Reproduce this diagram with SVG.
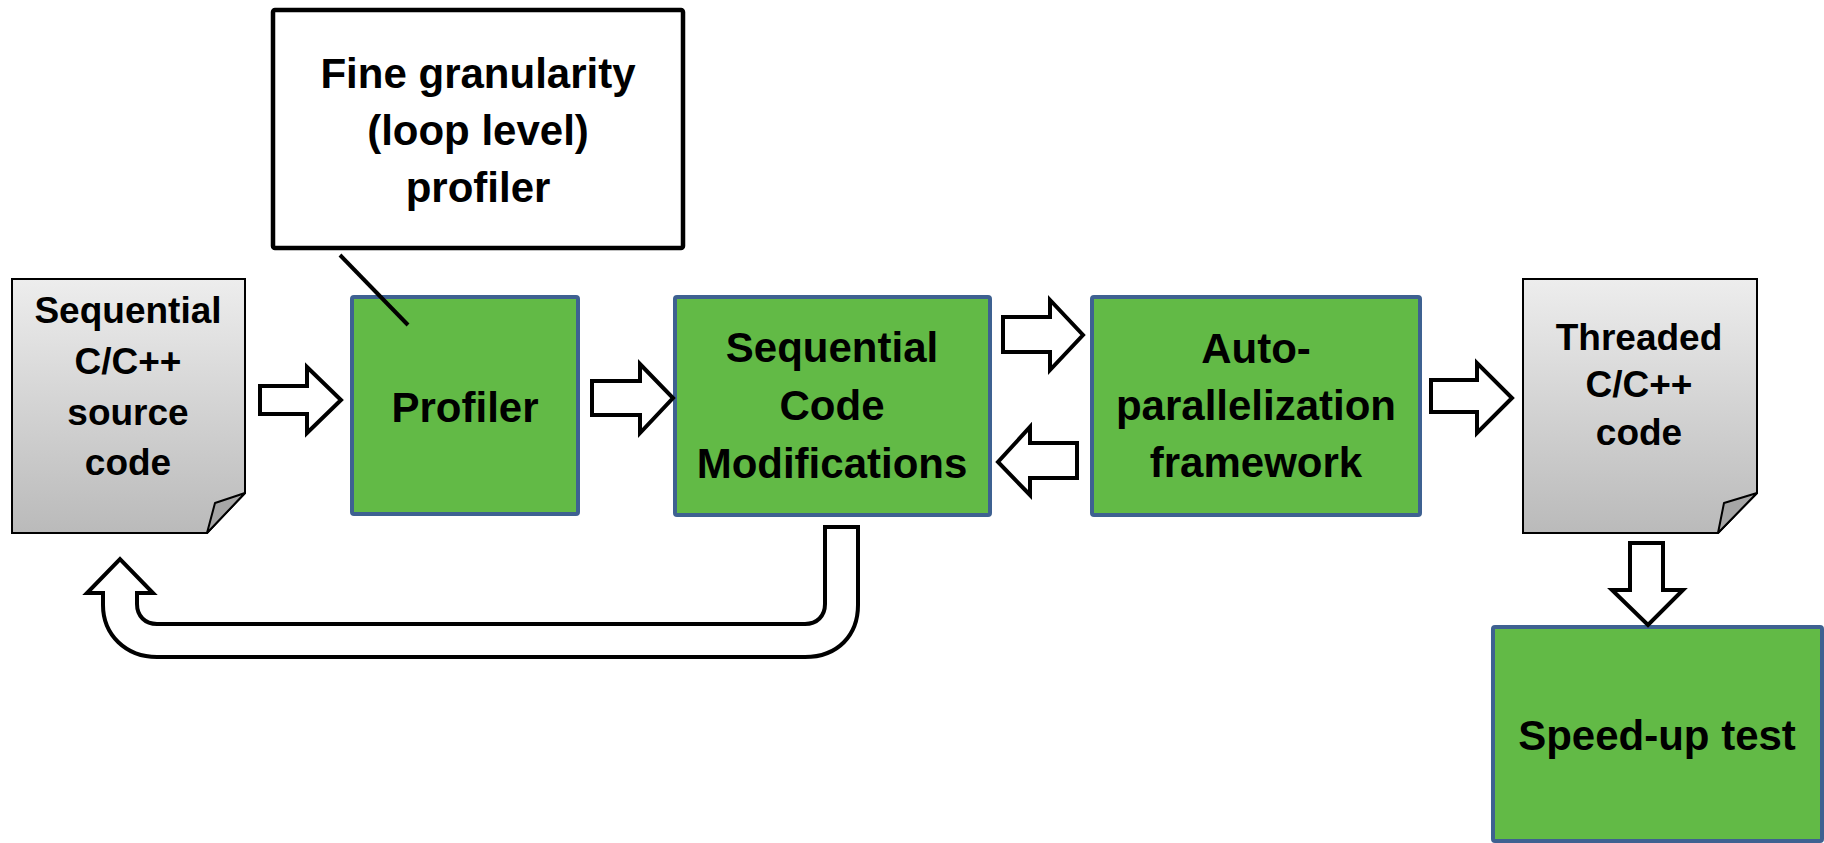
<svg xmlns="http://www.w3.org/2000/svg" width="1824" height="843" viewBox="0 0 1824 843">
  <defs>
    <linearGradient id="docGrad" x1="0" y1="0" x2="0" y2="1">
      <stop offset="0" stop-color="#EDEDED"/>
      <stop offset="1" stop-color="#BABABA"/>
    </linearGradient>
    <style>
      .green { fill: #62BA46; stroke: #3E6191; stroke-width: 4; }
      .doc { fill: url(#docGrad); stroke: #000; stroke-width: 2; }
      .fold { fill: #A6A6A6; stroke: #000; stroke-width: 2; stroke-linejoin: round; }
      .callout { fill: #fff; stroke: #000; stroke-width: 4.5; }
      .arrow { fill: #fff; stroke: #000; stroke-width: 4; stroke-linejoin: miter; }
      .lead { stroke: #000; stroke-width: 4; fill: none; }
      text { font-family: "Liberation Sans", Arial, sans-serif; font-weight: bold; fill: #000; text-anchor: middle; }
      .big { font-size: 42px; }
      .small { font-size: 37px; }
    </style>
  </defs>

  <g id="callout">
    <rect class="callout" x="273" y="10" width="410" height="238" rx="2"/>
    <text class="big" x="478" y="88">Fine granularity</text>
    <text class="big" x="478" y="145">(loop level)</text>
    <text class="big" x="478" y="202">profiler</text>
  </g>

  <g id="source-doc">
    <path class="doc" d="M12,279 L245,279 L245,493 L207,533 L12,533 Z"/>
    <path class="fold" d="M245,493 L215,503 L207,533 Z"/>
    <text class="small" x="128" y="323">Sequential</text>
    <text class="small" x="128" y="374">C/C++</text>
    <text class="small" x="128" y="425">source</text>
    <text class="small" x="128" y="475">code</text>
  </g>

  <g id="profiler">
    <rect class="green" x="352" y="297" width="226" height="217" rx="2"/>
    <text class="big" x="465" y="422">Profiler</text>
  </g>

  <g id="seq-mods">
    <rect class="green" x="675" y="297" width="315" height="218" rx="2"/>
    <text class="big" x="832" y="362">Sequential</text>
    <text class="big" x="832" y="420">Code</text>
    <text class="big" x="832" y="478">Modifications</text>
  </g>

  <g id="auto-par">
    <rect class="green" x="1092" y="297" width="328" height="218" rx="2"/>
    <text class="big" x="1256" y="363">Auto-</text>
    <text class="big" x="1256" y="420">parallelization</text>
    <text class="big" x="1256" y="477">framework</text>
  </g>

  <g id="threaded-doc">
    <path class="doc" d="M1523,279 L1757,279 L1757,493 L1718,533 L1523,533 Z"/>
    <path class="fold" d="M1757,493 L1724,503 L1718,533 Z"/>
    <text class="small" x="1639" y="350">Threaded</text>
    <text class="small" x="1639" y="397">C/C++</text>
    <text class="small" x="1639" y="445">code</text>
  </g>

  <g id="speedup">
    <rect class="green" x="1493" y="627" width="329" height="214" rx="2"/>
    <text class="big" x="1657" y="750">Speed-up test</text>
  </g>

  <g id="connectors">
    <line class="lead" x1="340" y1="255" x2="408" y2="325"/>
    <polygon class="arrow" points="260,386 307,386 307,367 341,400 307,433 307,414 260,414"/>
    <polygon class="arrow" points="592,381 640,381 640,364 673,398 640,433 640,415 592,415"/>
    <polygon class="arrow" points="1003,317 1050,317 1050,300 1083,335 1050,370 1050,352 1003,352"/>
    <polygon class="arrow" points="1077,443 1030,443 1030,427 998,462 1030,495 1030,478 1077,478"/>
    <polygon class="arrow" points="1431,380 1477,380 1477,363 1512,398 1477,433 1477,412 1431,412"/>
    <polygon class="arrow" points="1630,543 1663,543 1663,590 1683,590 1648,625 1612,590 1630,590"/>
    <path class="arrow" stroke-linejoin="round" d="M858,527 L858,605 C858,635 838,657 805,657 L157,657 C126,657 103,635 103,605 L103,593 L87,593 L120,559 L153,593 L137,593 L137,604 C137,616 145,624 157,624 L805,624 C817,624 825,616 825,604 L825,527 Z"/>
  </g>
</svg>
